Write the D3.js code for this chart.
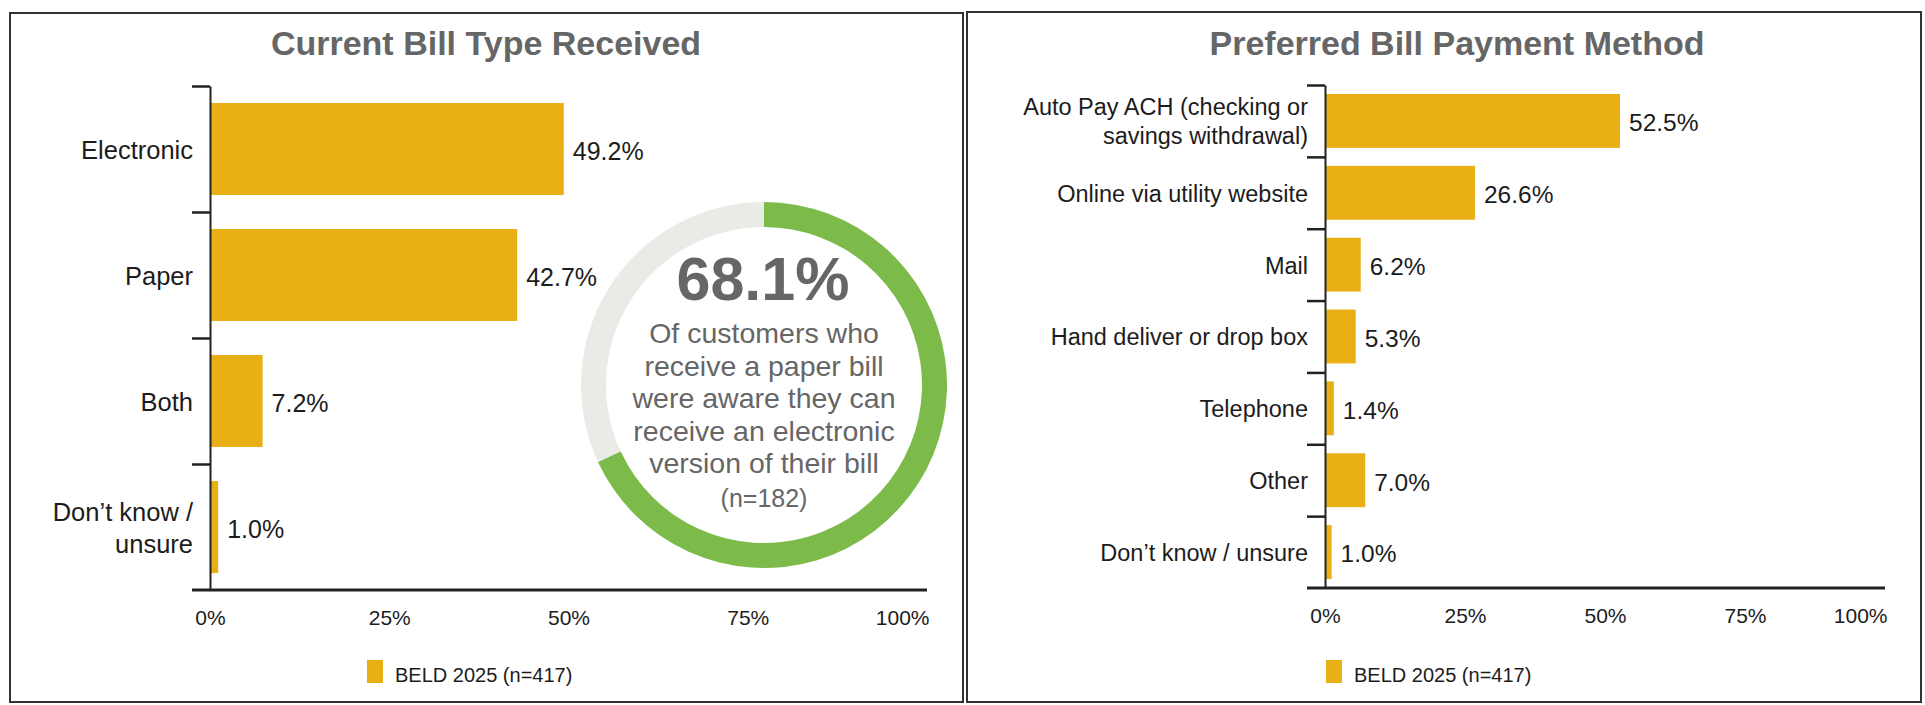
<!DOCTYPE html>
<html>
<head>
<meta charset="utf-8">
<script src="https://cdn.jsdelivr.net/npm/d3@7"></script>
<style>
  html, body { margin: 0; padding: 0; background: #ffffff; }
  svg { display: block; font-family: "Liberation Sans", Arial, Helvetica, sans-serif; }
</style>
</head>
<body>
<svg id="chart" width="1925" height="705"></svg>
<script>
// ---- Data ----
const billTypes = ["Electronic", "Paper", "Both", "Don’t know / unsure"];
const billTypeLines = [["Electronic"], ["Paper"], ["Both"], ["Don’t know /", "unsure"]];
const billTypeValues = [49.2, 42.7, 7.2, 1.0];

const payMethods = [
  "Auto Pay ACH (checking or savings withdrawal)",
  "Online via utility website",
  "Mail",
  "Hand deliver or drop box",
  "Telephone",
  "Other",
  "Don’t know / unsure"
];
const payMethodLines = [
  ["Auto Pay ACH (checking or", "savings withdrawal)"],
  ["Online via utility website"],
  ["Mail"],
  ["Hand deliver or drop box"],
  ["Telephone"],
  ["Other"],
  ["Don’t know / unsure"]
];
const payMethodValues = [52.5, 26.6, 6.2, 5.3, 1.4, 7.0, 1.0];

const xTickValues = [0, 25, 50, 75, 100];
const seriesName = "BELD 2025 (n=417)";

const awarePct = 68.1;
const awareLines = ["Of customers who", "receive a paper bill", "were aware they can", "receive an electronic", "version of their bill"];
const awareBase = "(n=182)";

// ---- Styles ----
const BAR = "#E8B014";
const GREEN = "#7CBA4A";
const RING_BG = "#E9ECE6";
const TITLE = "#666666";
const INK = "#1c1c1c";
const AXIS = "#222222";

const svg = d3.select("#chart");

// Panel frames
svg.append("rect").attr("x", 10).attr("y", 13).attr("width", 953).attr("height", 689)
  .attr("fill", "none").attr("stroke", "#333").attr("stroke-width", 2);
svg.append("rect").attr("x", 967).attr("y", 12).attr("width", 954).attr("height", 690)
  .attr("fill", "none").attr("stroke", "#333").attr("stroke-width", 2);

function drawBarPanel(opt) {
  const g = svg.append("g");
  const n = opt.categories.length;

  g.append("text")
    .attr("x", opt.titleX).attr("y", 55)
    .attr("text-anchor", "middle")
    .attr("font-size", 34).attr("font-weight", "bold")
    .attr("fill", TITLE)
    .text(opt.title);

  const x = d3.scaleLinear().domain([0, 100]).range([opt.x0, opt.x1]);
  const y = d3.scaleBand().domain(opt.categories).range([opt.y0, opt.y1])
    .paddingInner(opt.pad).paddingOuter(opt.pad / 2);

  // Bars
  g.selectAll("rect.bar").data(opt.values).join("rect")
    .attr("class", "bar")
    .attr("x", x(0) + 1)
    .attr("y", (d, i) => y(opt.categories[i]))
    .attr("width", d => x(d) - x(0))
    .attr("height", y.bandwidth())
    .attr("fill", BAR);

  // Value labels
  g.selectAll("text.val").data(opt.values).join("text")
    .attr("class", "val")
    .attr("x", d => x(d) + 10)
    .attr("y", (d, i) => y(opt.categories[i]) + y.bandwidth() / 2)
    .attr("dy", "0.42em")
    .attr("font-size", opt.valueSize).attr("fill", INK)
    .text(d => d.toFixed(1) + "%");

  // Category labels
  opt.lines.forEach((lines, i) => {
    const cy = y(opt.categories[i]) + y.bandwidth() / 2;
    const t = g.append("text")
      .attr("text-anchor", "end")
      .attr("font-size", opt.labelSize).attr("fill", INK);
    lines.forEach((ln, k) => {
      t.append("tspan")
        .attr("x", opt.x0 - 17)
        .attr("y", cy + (k - (lines.length - 1) / 2) * opt.lineGap)
        .attr("dy", "0.38em")
        .text(ln);
    });
  });

  // Category axis: ticks at band boundaries
  const yb = d3.scaleLinear().domain([0, n]).range([opt.y0, opt.y1]);
  const yAxis = g.append("g").attr("transform", `translate(${opt.x0},0)`)
    .call(d3.axisLeft(yb).tickValues(d3.range(n)).tickFormat("").tickSize(18).tickSizeOuter(0));
  yAxis.select(".domain").attr("stroke", AXIS).attr("stroke-width", 2);
  yAxis.selectAll(".tick line").attr("stroke", AXIS).attr("stroke-width", 2.5);

  // Value axis
  const xAxis = g.append("g").attr("transform", `translate(0,${opt.y1})`)
    .call(d3.axisBottom(x).tickValues(xTickValues).tickSize(0).tickPadding(20)
      .tickFormat(d => d + "%"));
  xAxis.select(".domain").remove();
  xAxis.append("line")
    .attr("x1", opt.x0 - 18).attr("x2", opt.x1)
    .attr("stroke", AXIS).attr("stroke-width", 3);
  xAxis.selectAll(".tick text")
    .attr("font-size", 21).attr("fill", INK)
    .attr("font-family", "\"Liberation Sans\", Arial, sans-serif")
    .attr("text-anchor", (d, i) => i === xTickValues.length - 1 ? "end" : "middle")
    .attr("dx", (d, i) => i === xTickValues.length - 1 ? 2 : 0);

  // Legend
  const lg = g.append("g").attr("transform", `translate(${opt.legendX},0)`);
  lg.append("rect").attr("x", 0).attr("y", 660).attr("width", 16).attr("height", 23).attr("fill", BAR);
  lg.append("text").attr("x", 28).attr("y", 682)
    .attr("font-size", 20).attr("fill", INK).text(seriesName);

  return g;
}

drawBarPanel({
  title: "Current Bill Type Received", titleX: 486,
  categories: billTypes, lines: billTypeLines, values: billTypeValues,
  x0: 210, x1: 927, y0: 86, y1: 590, pad: 0.27,
  labelSize: 25.5, valueSize: 25, lineGap: 32, legendX: 367
});

drawBarPanel({
  title: "Preferred Bill Payment Method", titleX: 1457,
  categories: payMethods, lines: payMethodLines, values: payMethodValues,
  x0: 1325, x1: 1885, y0: 85, y1: 588, pad: 0.25,
  labelSize: 23.5, valueSize: 24.5, lineGap: 29, legendX: 1326
});

// ---- Awareness ring ----
const ring = svg.append("g").attr("transform", "translate(764,385)");
const pie = d3.pie().sort(null).value(d => d);
const arc = d3.arc().innerRadius(158).outerRadius(183);
ring.selectAll("path").data(pie([awarePct, 100 - awarePct])).join("path")
  .attr("d", arc)
  .attr("fill", (d, i) => i === 0 ? GREEN : RING_BG);

ring.append("text")
  .attr("x", -1).attr("y", -85)
  .attr("text-anchor", "middle")
  .attr("font-size", 61).attr("font-weight", "bold").attr("fill", "#666")
  .text(awarePct.toFixed(1) + "%");

const body = ring.append("text").attr("text-anchor", "middle").attr("fill", "#666");
awareLines.forEach((ln, k) => {
  body.append("tspan").attr("x", 0).attr("y", -42 + k * 32.5)
    .attr("font-size", 28.5).text(ln);
});
body.append("tspan").attr("x", 0).attr("y", -42 + 5 * 32.5 + 1)
  .attr("font-size", 25).text(awareBase);
</script>
</body>
</html>
